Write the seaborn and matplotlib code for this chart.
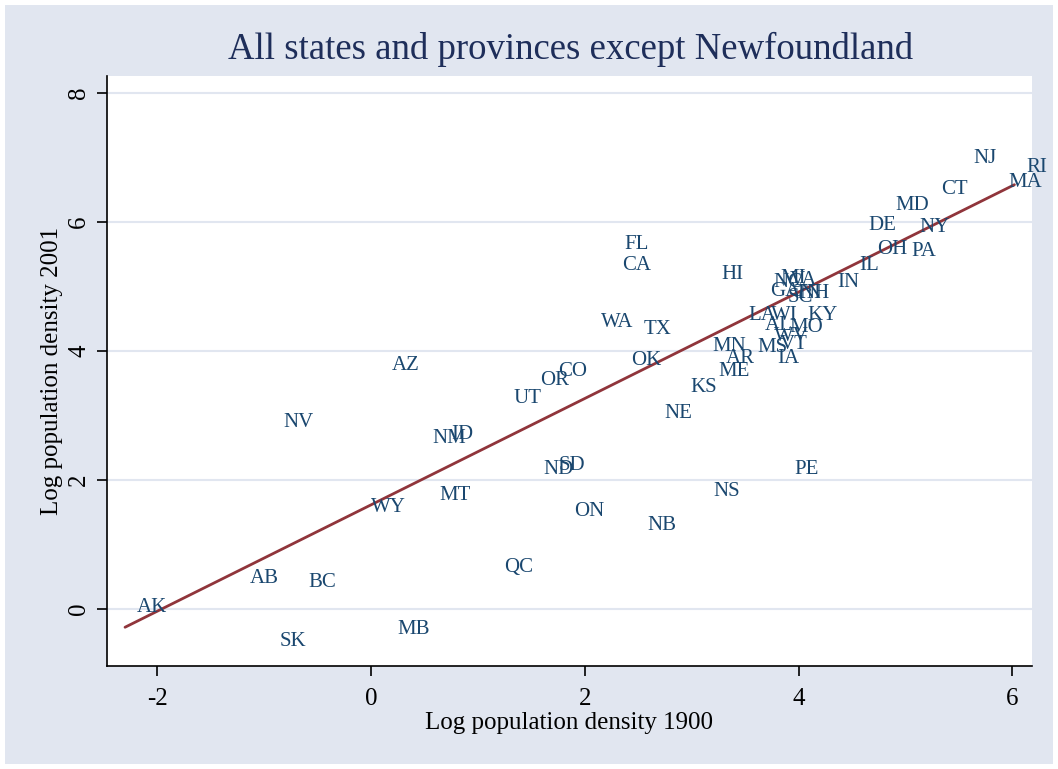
import pandas as pd
import matplotlib
matplotlib.use("Agg")
import matplotlib.pyplot as plt
import seaborn as sns

# === Data: log population density, 1900 vs 2001 ===
codes = ["AK", "AB", "BC", "SK", "MB", "WY", "MT", "NV", "AZ", "NM",
         "ID", "QC", "UT", "OR", "CO", "ND", "SD", "ON", "WA", "FL",
         "CA", "TX", "OK", "NB", "NE", "KS", "HI", "NS", "MN", "AR",
         "ME", "PE", "LA", "WI", "KY", "AL", "MO", "WV", "VT", "MS",
         "IA", "GA", "SC", "NC", "VA", "TN", "NH", "MI", "IN", "IL",
         "OH", "PA", "DE", "NY", "MD", "CT", "NJ", "RI", "MA"]
dens_1900 = [-2.30, -1.24, -0.70, -0.97, 0.14, -0.11, 0.53, -0.93, 0.08, 0.46,
             0.64, 1.13, 1.22, 1.47, 1.64, 1.50, 1.64, 1.79, 2.04, 2.26,
             2.24, 2.44, 2.32, 2.47, 2.63, 2.88, 3.17, 3.09, 3.08, 3.21,
             3.14, 3.85, 3.42, 3.63, 3.97, 3.57, 3.80, 3.66, 3.71, 3.50,
             3.69, 3.62, 3.79, 3.65, 3.81, 3.85, 3.90, 3.72, 4.25, 4.46,
             4.62, 4.94, 4.54, 5.02, 4.79, 5.22, 5.52, 6.02, 5.85]
dens_2001 = [0.06, 0.51, 0.45, -0.47, -0.29, 1.60, 1.80, 2.93, 3.81, 2.68,
             2.74, 0.68, 3.29, 3.57, 3.72, 2.19, 2.26, 1.55, 4.48, 5.69,
             5.36, 4.37, 3.89, 1.33, 3.07, 3.46, 5.22, 1.86, 4.11, 3.91,
             3.71, 2.20, 4.59, 4.59, 4.59, 4.43, 4.39, 4.25, 4.14, 4.08,
             3.91, 4.95, 4.86, 5.10, 5.13, 4.92, 4.92, 5.15, 5.10, 5.36,
             5.60, 5.58, 5.97, 5.95, 6.28, 6.53, 7.01, 6.88, 6.65]

df = pd.DataFrame({"code": codes, "x": dens_1900, "y": dens_2001})

# === Style ===
bg = "#E1E6F0"
navy = "#1A476F"
sns.set_theme(style="white")
plt.rcParams["font.family"] = ["Liberation Serif", "DejaVu Serif"]
plt.rcParams["axes.unicode_minus"] = False

fig = plt.figure(figsize=(10.58, 7.69), dpi=100)
fig.patch.set_facecolor(bg)
fig.patch.set_edgecolor("white")
fig.patch.set_linewidth(6)
ax = fig.add_axes([0.101, 0.134, 0.874, 0.767])
ax.set_facecolor("white")

# fitted line
sns.regplot(data=df, x="x", y="y", scatter=False, ci=None, ax=ax,
            line_kws={"color": "#90353B", "lw": 2})

# state / province labels (placed to the right of each point)
for _, r in df.iterrows():
    ax.annotate(r["code"], (r["x"], r["y"]), xytext=(8.6, -1.5),
                textcoords="offset points", ha="left", va="center",
                fontsize=15, color=navy, annotation_clip=False)

ax.set_xlim(-2.47, 6.18)
ax.set_ylim(-0.88, 8.26)
ax.set_xticks([-2, 0, 2, 4, 6])
ax.set_yticks([0, 2, 4, 6, 8])
ax.yaxis.grid(True, color=bg, lw=1.5)
ax.set_axisbelow(True)
for s in ["top", "right"]:
    ax.spines[s].set_visible(False)
for s in ["left", "bottom"]:
    ax.spines[s].set_color("black")
    ax.spines[s].set_linewidth(1.2)
ax.tick_params(axis="both", direction="out", length=7, width=1.2,
               color="black", labelsize=18, labelcolor="black", pad=5,
               left=True, bottom=True)
ax.tick_params(axis="x", pad=9)
plt.setp(ax.get_yticklabels(), rotation=90, va="center")

ax.set_xlabel("Log population density 1900", fontsize=18, color="black", labelpad=1)
ax.set_ylabel("Log population density 2001", fontsize=18, color="black", labelpad=4)
fig.text(0.539, 0.936, "All states and provinces except Newfoundland",
         ha="center", va="center", fontsize=26.5, color="#1E2E5A")

fig.savefig("out.png", dpi=100, facecolor=fig.get_facecolor(),
            edgecolor=fig.get_edgecolor())
